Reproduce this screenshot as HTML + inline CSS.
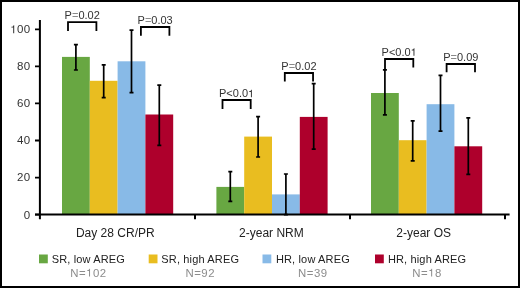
<!DOCTYPE html>
<html><head><meta charset="utf-8"><style>
html,body{margin:0;padding:0;background:#fff}
body{width:520px;height:288px;overflow:hidden;position:relative}
.f{position:absolute;left:0;top:0;width:520px;height:288px;box-sizing:border-box;border:2px solid #000}
svg{position:absolute;left:0;top:0;will-change:transform}
text{font-family:"Liberation Sans",sans-serif;}
.t{font-size:11.5px;letter-spacing:0.4px;fill:#333;text-anchor:end}
.p{font-size:11px;fill:#333;text-anchor:middle}
.c{font-size:12px;fill:#222;text-anchor:middle}
.l{font-size:11px;letter-spacing:0.15px;fill:#222;text-anchor:middle}
.h{fill-opacity:0}
.eq{fill:#8a8a8a}
.d1{fill:#333}
.n1{fill:#8c8c8c}
.n{font-size:11.4px;letter-spacing:0.5px;fill:#8c8c8c;text-anchor:middle}
</style></head><body>
<svg width="520" height="288" viewBox="0 0 520 288">
<rect x="62.00" y="56.90" width="27.80" height="157.70" fill="#68a742"/>
<rect x="89.80" y="80.80" width="27.80" height="133.80" fill="#e9bd20"/>
<rect x="117.60" y="61.30" width="27.80" height="153.30" fill="#88bae7"/>
<rect x="145.40" y="114.50" width="27.80" height="100.10" fill="#ae002c"/>
<rect x="216.40" y="186.90" width="27.80" height="27.70" fill="#68a742"/>
<rect x="244.20" y="136.60" width="27.80" height="78.00" fill="#e9bd20"/>
<rect x="272.00" y="194.40" width="27.80" height="20.20" fill="#88bae7"/>
<rect x="299.80" y="116.90" width="27.80" height="97.70" fill="#ae002c"/>
<rect x="371.00" y="93.00" width="27.80" height="121.60" fill="#68a742"/>
<rect x="398.80" y="140.20" width="27.80" height="74.40" fill="#e9bd20"/>
<rect x="426.60" y="104.20" width="27.80" height="110.40" fill="#88bae7"/>
<rect x="454.40" y="146.30" width="27.80" height="68.30" fill="#ae002c"/>
<path d="M75.90 44.70V70.00M73.90 44.70H77.90M73.90 70.00H77.90" stroke="#000" stroke-width="1.7" fill="none"/>
<path d="M103.70 64.90V97.70M101.70 64.90H105.70M101.70 97.70H105.70" stroke="#000" stroke-width="1.7" fill="none"/>
<path d="M131.50 30.20V92.60M129.50 30.20H133.50M129.50 92.60H133.50" stroke="#000" stroke-width="1.7" fill="none"/>
<path d="M159.30 85.20V145.30M157.30 85.20H161.30M157.30 145.30H161.30" stroke="#000" stroke-width="1.7" fill="none"/>
<path d="M230.30 171.60V201.30M228.30 171.60H232.30M228.30 201.30H232.30" stroke="#000" stroke-width="1.7" fill="none"/>
<path d="M258.10 116.60V157.00M256.10 116.60H260.10M256.10 157.00H260.10" stroke="#000" stroke-width="1.7" fill="none"/>
<path d="M285.90 174.00V214.60M283.90 174.00H287.90M283.90 214.60H287.90" stroke="#000" stroke-width="1.7" fill="none"/>
<path d="M313.70 83.60V149.20M311.70 83.60H315.70M311.70 149.20H315.70" stroke="#000" stroke-width="1.7" fill="none"/>
<path d="M384.90 69.90V114.80M382.90 69.90H386.90M382.90 114.80H386.90" stroke="#000" stroke-width="1.7" fill="none"/>
<path d="M412.70 120.90V160.90M410.70 120.90H414.70M410.70 160.90H414.70" stroke="#000" stroke-width="1.7" fill="none"/>
<path d="M440.50 75.40V131.20M438.50 75.40H442.50M438.50 131.20H442.50" stroke="#000" stroke-width="1.7" fill="none"/>
<path d="M468.30 117.80V174.30M466.30 117.80H470.30M466.30 174.30H470.30" stroke="#000" stroke-width="1.7" fill="none"/>
<path d="M68.00 31.10V22.20H96.40V31.10" stroke="#000" stroke-width="1.8" fill="none"/>
<text x="82.20" y="18.60" class="p">P<tspan class="eq">=</tspan>0.02</text>
<path d="M140.90 35.70V27.00H169.40V35.70" stroke="#000" stroke-width="1.8" fill="none"/>
<text x="155.15" y="24.40" class="p">P<tspan class="eq">=</tspan>0.03</text>
<path d="M222.50 109.00V100.00H250.70V109.00" stroke="#000" stroke-width="1.8" fill="none"/>
<text x="236.60" y="97.30" class="p">P&lt;0.0<tspan class="h">1</tspan></text>
<path d="M284.80 81.40V73.00H313.05V81.40" stroke="#000" stroke-width="1.8" fill="none"/>
<text x="298.93" y="70.20" class="p">P<tspan class="eq">=</tspan>0.02</text>
<path d="M385.00 69.50V59.00H413.30V67.50" stroke="#000" stroke-width="1.8" fill="none"/>
<text x="399.15" y="55.80" class="p">P&lt;0.0<tspan class="h">1</tspan></text>
<path d="M446.60 72.30V64.00H475.00V72.30" stroke="#000" stroke-width="1.8" fill="none"/>
<text x="460.80" y="60.60" class="p">P<tspan class="eq">=</tspan>0.09</text>
<text x="30.6" y="218.50" class="t">0</text>
<text x="30.6" y="181.44" class="t">20</text>
<text x="30.6" y="144.38" class="t">40</text>
<text x="30.6" y="107.32" class="t">60</text>
<text x="30.6" y="70.26" class="t">80</text>
<text x="30.6" y="33.20" class="t"><tspan class="h">1</tspan>00</text>
<path d="M35 214.60H40M35 177.54H40M35 140.48H40M35 103.42H40M35 66.36H40M35 29.30H40" stroke="#000" stroke-width="1.8" fill="none"/>
<path d="M39.9 20V219.2M35 214.6H509.6M195 214.6V219.2M350 214.6V219.2M505 214.6V219.2" stroke="#000" stroke-width="2" fill="none"/>
<text x="115.3" y="236.8" class="c">Day 28 CR/PR</text>
<text x="271.4" y="236.8" class="c">2-year NRM</text>
<text x="423.7" y="236.8" class="c">2-year OS</text>
<rect x="39" y="254.5" width="8.8" height="8.8" fill="#68a742"/>
<text x="88.4" y="262.7" class="l">SR, low AREG</text>
<text x="88.4" y="276.5" class="n">N=<tspan class="h">1</tspan>02</text>
<rect x="148.7" y="254.5" width="8.8" height="8.8" fill="#e9bd20"/>
<text x="200.25" y="262.7" class="l">SR, high AREG</text>
<text x="200.25" y="276.5" class="n">N=92</text>
<rect x="262.5" y="254.5" width="8.8" height="8.8" fill="#88bae7"/>
<text x="312.9" y="262.7" class="l">HR, low AREG</text>
<text x="312.9" y="276.5" class="n">N=39</text>
<rect x="375" y="254.5" width="8.8" height="8.8" fill="#ae002c"/>
<text x="427.1" y="262.7" class="l">HR, high AREG</text>
<text x="427.1" y="276.5" class="n">N=<tspan class="h">1</tspan>8</text>
<path class="d1" d="M250.92 91.91L249.19 91.91L249.19 91.24Q250.31 91.10 250.65 90.85Q250.99 90.61 251.25 89.73L251.89 89.73L251.89 97.30L250.92 97.30Z"/>
<path class="d1" d="M413.47 50.41L411.74 50.41L411.74 49.74Q412.86 49.60 413.20 49.35Q413.54 49.11 413.80 48.23L414.44 48.23L414.44 55.80L413.47 55.80Z"/>
<path class="d1" d="M13.19 27.56L11.38 27.56L11.38 26.86Q12.56 26.72 12.91 26.46Q13.27 26.20 13.53 25.29L14.20 25.29L14.20 33.20L13.19 33.20Z"/>
<path class="n1" d="M89.04 270.91L87.25 270.91L87.25 270.22Q88.41 270.07 88.77 269.82Q89.12 269.56 89.38 268.66L90.04 268.66L90.04 276.50L89.04 276.50Z"/>
<path class="n1" d="M431.15 270.91L429.36 270.91L429.36 270.22Q430.53 270.07 430.88 269.82Q431.23 269.56 431.50 268.66L432.16 268.66L432.16 276.50L431.15 276.50Z"/>
</svg>
<div class="f"></div>
</body></html>
